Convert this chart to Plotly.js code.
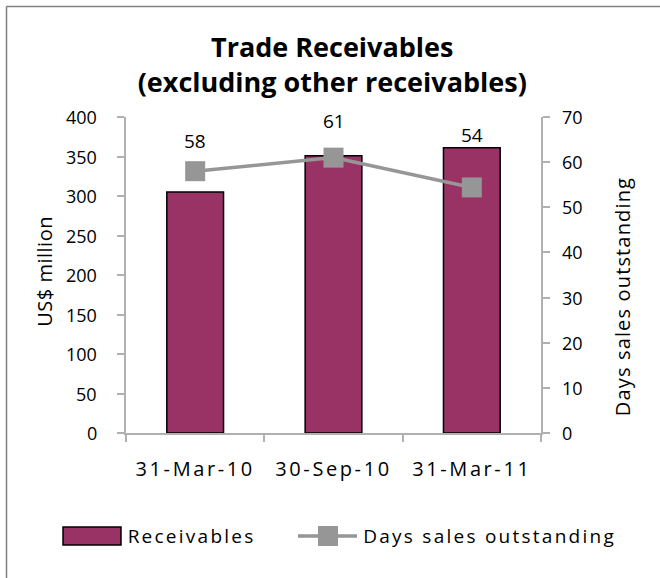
<!DOCTYPE html>
<html>
<head>
<meta charset="utf-8">
<script src="https://cdn.plot.ly/plotly-3.0.1.min.js"></script>
<style>
html,body{margin:0;padding:0;background:#fff;}
#chart{width:660px;height:578px;}
#chart .xtick text{letter-spacing:2.6px;}
#chart .annotation[data-index="3"] text,
#chart .annotation[data-index="4"] text{letter-spacing:2.25px;}
#chart .annotation[data-index="5"] text{letter-spacing:0.5px;}
#chart .annotation[data-index="6"] text{letter-spacing:1.15px;}
</style>
</head>
<body>
<div id="chart"></div>
<script>
const categories = ['31-Mar-10', '30-Sep-10', '31-Mar-11'];
const receivables = [305, 351, 361];
const daysSalesOutstanding = [58, 61, 54.4];
const leftTicks = [0, 50, 100, 150, 200, 250, 300, 350, 400];
const rightTicks = [0, 10, 20, 30, 40, 50, 60, 70];
const seriesNames = ['Receivables', 'Days sales outstanding'];
const leftAxisTitle = 'US$ million';
const rightAxisTitle = 'Days sales outstanding';

const FONT = 'Open Sans, Liberation Sans, sans-serif';
const BAR_COLOR = '#993366';
const LINE_COLOR = '#969696';
const labelShift = [30, 37, 52];

// plot-area geometry in pixels (for paper coordinate helpers)
const M = {l: 126, r: 119, t: 117, b: 145};
const PW = 660 - M.l - M.r, PH = 578 - M.t - M.b;
const px = X => (X - M.l) / PW;
const py = Y => (578 - M.b - Y) / PH;

const traces = [
  {
    type: 'bar',
    name: seriesNames[0],
    x: categories,
    y: receivables,
    width: 0.41,
    marker: {color: BAR_COLOR, line: {color: '#000000', width: 1.5}},
    hoverinfo: 'x+y'
  },
  {
    type: 'scatter',
    mode: 'lines+markers',
    name: seriesNames[1],
    x: categories,
    y: daysSalesOutstanding,
    yaxis: 'y2',
    line: {color: LINE_COLOR, width: 3.5},
    marker: {symbol: 'square', size: 20, color: LINE_COLOR}
  }
];

// data labels (indices 0-2)
const annotations = daysSalesOutstanding.map((v, i) => ({
  x: categories[i], y: v, xref: 'x', yref: 'y2',
  text: String(Math.round(v)), showarrow: false,
  yshift: labelShift[i],
  font: {family: FONT, size: 19, color: '#000'}
}));

// custom legend text (indices 3, 4)
annotations.push(
  {xref: 'paper', yref: 'paper', x: px(191), y: py(536), xanchor: 'center', yanchor: 'middle',
   text: seriesNames[0], showarrow: false, font: {family: FONT, size: 19, color: '#000'}},
  {xref: 'paper', yref: 'paper', x: px(489), y: py(536), xanchor: 'center', yanchor: 'middle',
   text: seriesNames[1], showarrow: false, font: {family: FONT, size: 19, color: '#000'}}
);
// axis titles (indices 5, 6)
annotations.push(
  {xref: 'paper', yref: 'paper', x: px(44), y: py(272), xanchor: 'center', yanchor: 'middle',
   textangle: -90, text: leftAxisTitle, showarrow: false, font: {family: FONT, size: 20, color: '#000'}},
  {xref: 'paper', yref: 'paper', x: px(622), y: py(296.5), xanchor: 'center', yanchor: 'middle',
   textangle: -90, text: rightAxisTitle, showarrow: false, font: {family: FONT, size: 20, color: '#000'}}
);
// y-axis tick labels placed on the axis scales, with the reference's wider gap
leftTicks.forEach(v => annotations.push({
  xref: 'paper', yref: 'y', x: px(99), y: v, xanchor: 'right', yanchor: 'middle',
  text: String(v), showarrow: false, font: {family: FONT, size: 18, color: '#000'}
}));
rightTicks.forEach(v => annotations.push({
  xref: 'paper', yref: 'y2', x: px(560), y: v, xanchor: 'left', yanchor: 'middle',
  text: String(v), showarrow: false, font: {family: FONT, size: 18, color: '#000'}
}));

const shapes = [
  // chart border (top-left visible)
  {type: 'line', xref: 'paper', yref: 'paper', x0: px(6.5), x1: px(6.5), y0: py(700), y1: py(6.5), line: {color: '#808080', width: 1.5}},
  {type: 'line', xref: 'paper', yref: 'paper', x0: px(6.5), x1: px(800), y0: py(6.5), y1: py(6.5), line: {color: '#808080', width: 1.5}},
  // legend symbols
  {type: 'rect', xref: 'paper', yref: 'paper', x0: px(63), x1: px(121), y0: py(545), y1: py(527), fillcolor: BAR_COLOR, line: {color: '#000', width: 1.5}},
  {type: 'line', xref: 'paper', yref: 'paper', x0: px(298), x1: px(357), y0: py(536), y1: py(536), line: {color: LINE_COLOR, width: 3.5}},
  {type: 'rect', xref: 'paper', yref: 'paper', x0: px(318), x1: px(338), y0: py(546), y1: py(526), fillcolor: LINE_COLOR, line: {width: 0}}
];

const layout = {
  width: 660, height: 578,
  margin: M,
  paper_bgcolor: '#ffffff', plot_bgcolor: '#ffffff',
  font: {family: FONT, color: '#000'},
  title: {
    text: '<b>Trade Receivables<br>(excluding other receivables)</b>',
    x: 0.497, xref: 'paper', xanchor: 'center',
    y: 1 - 56.5 / 578, yref: 'container', yanchor: 'middle',
    font: {family: FONT, size: 27, color: '#000'}
  },
  xaxis: {
    type: 'category',
    showgrid: false,
    showline: true, linecolor: '#b0b0b0', linewidth: 1.5,
    ticks: 'outside', tickson: 'boundaries', ticklen: 7, tickcolor: '#b0b0b0', tickwidth: 1.5,
    ticklabelstandoff: 17,
    tickfont: {family: FONT, size: 20, color: '#000'},
    fixedrange: true
  },
  yaxis: {
    range: [0, 400],
    tickvals: leftTicks, showticklabels: false,
    showgrid: false, zeroline: false,
    showline: true, linecolor: '#b0b0b0', linewidth: 1.5,
    ticks: 'outside', ticklen: 7, tickcolor: '#b0b0b0', tickwidth: 1.5
  },
  yaxis2: {
    range: [0, 70], overlaying: 'y', side: 'right',
    tickvals: rightTicks, showticklabels: false,
    showgrid: false, zeroline: false,
    showline: true, linecolor: '#b0b0b0', linewidth: 1.5,
    ticks: 'outside', ticklen: 7, tickcolor: '#b0b0b0', tickwidth: 1.5
  },
  showlegend: false,
  annotations: annotations,
  shapes: shapes
};

Plotly.newPlot('chart', traces, layout, {displayModeBar: false, responsive: false});
</script>
</body>
</html>
